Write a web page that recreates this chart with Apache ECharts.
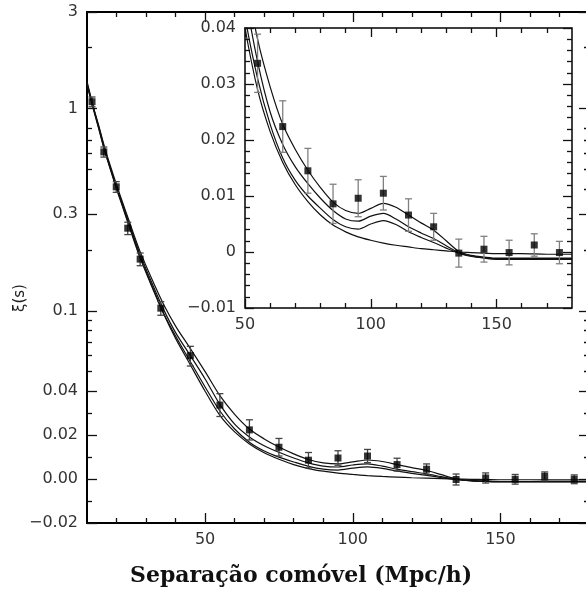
<!DOCTYPE html>
<html><head><meta charset="utf-8">
<script src="https://cdn.jsdelivr.net/npm/echarts@6/dist/echarts.min.js"></script>
<style>html,body{margin:0;padding:0;background:#fff}#c{width:586px;height:598px}</style>
</head><body><div id="c"></div><script>
// ---- observed points ----
const obsS   = [11.7, 15.7, 19.9, 23.8, 28, 35, 45, 55, 65, 75, 85, 95, 105, 115, 125, 135, 145, 155, 165, 175];
const obsXi  = [1.08, 0.61, 0.41, 0.256, 0.18, 0.103, 0.060, 0.0337, 0.0224, 0.0145, 0.0086, 0.0096, 0.0105, 0.0066, 0.0045, -0.0002, 0.0005, -0.0001, 0.00125, -0.0001];
const obsErr = [0.06, 0.035, 0.025, 0.018, 0.013, 0.008, 0.0067, 0.0052, 0.0046, 0.004, 0.0035, 0.0033, 0.003, 0.0029, 0.0024, 0.0025, 0.0023, 0.0022, 0.002, 0.002];
// ---- model curves ----
const modelS = [10,12,14,16,18,20,22,24,26,28,32,36,40,45,50,55,60,65,70,75,80,85,90,95,100,105,110,115,120,125,130,135,140,145,150,160,170,180];
const modelA = [1.36,1.04,0.82,0.64,0.515,0.42,0.345,0.285,0.235,0.196,0.143,0.107,0.084,0.065,0.050,0.038,0.0295,0.0228,0.0183,0.0146,0.0115,0.0089,0.0074,0.0069,0.0078,0.0087,0.0080,0.0066,0.0052,0.0039,0.0020,0.0001,-0.0006,-0.0009,-0.0011,-0.0011,-0.0011,-0.0011];
const modelB = [1.34,1.03,0.81,0.63,0.505,0.41,0.338,0.278,0.229,0.19,0.137,0.101,0.078,0.060,0.046,0.034,0.0250,0.0192,0.0152,0.0122,0.0096,0.0074,0.0059,0.0055,0.0064,0.0069,0.0059,0.0045,0.0034,0.0024,0.0011,-0.0001,-0.0007,-0.0010,-0.0012,-0.0012,-0.0012,-0.0012];
const modelC = [1.32,1.02,0.80,0.62,0.50,0.405,0.332,0.272,0.224,0.185,0.133,0.097,0.075,0.056,0.042,0.031,0.0228,0.0168,0.0128,0.0100,0.0078,0.0058,0.0045,0.0041,0.0050,0.0056,0.0049,0.0036,0.0026,0.0017,0.0007,-0.0002,-0.0008,-0.0011,-0.0013,-0.0013,-0.0013,-0.0013];
const modelD = [1.31,1.01,0.79,0.615,0.495,0.40,0.328,0.268,0.22,0.182,0.131,0.096,0.073,0.054,0.040,0.029,0.0215,0.0160,0.0120,0.0090,0.0066,0.0048,0.0036,0.0027,0.0021,0.0016,0.0012,0.0009,0.0006,0.0004,0.0002,0.0000,-0.0001,-0.0002,-0.0003,-0.0003,-0.0004,-0.0004];
// ---- ticks ----
const mainYMajor = [3, 1, 0.3, 0.1, 0.04, 0.02, 0, -0.02];
const mainYLabels = ['3', '1', '0.3', '0.1', '0.04', '0.02', '0.00', '\u22120.02'];
const mainYMinor = [2, 0.8, 0.7, 0.6, 0.5, 0.4, 0.2, 0.09, 0.08, 0.07, 0.06, 0.05, 0.03, 0.01, -0.01];
const xMajor = [50, 100, 150];
const xMajorLabels = ['50', '100', '150'];
const mainXMinor = [20, 30, 40, 60, 70, 80, 90, 110, 120, 130, 140, 160, 170];
const insetXMinor = [60, 70, 80, 90, 110, 120, 130, 140, 160, 170];
const insetYMajor = [0.04, 0.03, 0.02, 0.01, 0, -0.01];
const insetYLabels = ['0.04', '0.03', '0.02', '0.01', '0', '\u22120.01'];
const insetYMinor = [0.038,0.036,0.034,0.032,0.028,0.026,0.024,0.022,0.018,0.016,0.014,0.012,0.008,0.006,0.004,0.002,-0.002,-0.004,-0.006,-0.008];

// squashed scale: linear below 0.04, logarithmic above
const T = v => v <= 0.04 ? v : 0.04 * (1 + Math.log(v / 0.04));
const fmt = (vals, labels) => v => { const i = vals.findIndex(t => Math.abs(t - v) < 1e-7); return i >= 0 ? labels[i] : ''; };

const lblStyle = {fontFamily: 'DejaVu Sans', fontSize: 16, color: '#333'};
const LINE = '#111';

function ax(grid, min, max, pos, ticks, len, labels) {
  return {type: 'value', gridIndex: grid, min, max, position: pos,
    axisLine: {show: false, onZero: false},
    axisTick: {show: true, inside: true, length: len, customValues: ticks, lineStyle: {color: LINE, width: 1.3}},
    axisLabel: labels ? Object.assign({show: true, customValues: ticks, formatter: fmt(ticks, labels), margin: 9}, lblStyle) : {show: false},
    splitLine: {show: false}};
}
const mainYMaxT = T(3);
const mainMajT = mainYMajor.map(T), mainMinT = mainYMinor.map(T);

function errRenderer(color) {
  return function (params, api) {
    const x = api.value(0), lo = api.value(1), hi = api.value(2);
    const p1 = api.coord([x, lo]), p2 = api.coord([x, hi]);
    const w = 3.5, st = {stroke: color, lineWidth: 1.3};
    return {type: 'group', children: [
      {type: 'line', shape: {x1: p1[0], y1: p1[1], x2: p2[0], y2: p2[1]}, style: st},
      {type: 'line', shape: {x1: p1[0] - w, y1: p1[1], x2: p1[0] + w, y2: p1[1]}, style: st},
      {type: 'line', shape: {x1: p2[0] - w, y1: p2[1], x2: p2[0] + w, y2: p2[1]}, style: st}]};
  };
}

const models = [modelA, modelB, modelC, modelD];
const series = [];
models.forEach(m => {
  series.push({type: 'line', xAxisIndex: 0, yAxisIndex: 0, data: modelS.map((s, i) => [s, T(m[i])]),
    showSymbol: false, smooth: 0.3, lineStyle: {color: LINE, width: 1.2}, z: 2, silent: true});
});
series.push({type: 'custom', xAxisIndex: 0, yAxisIndex: 0, renderItem: errRenderer('#444'), encode: {x: 0, y: [1, 2]},
  data: obsS.map((s, i) => [s, T(obsXi[i] - obsErr[i]), T(obsXi[i] + obsErr[i])]), z: 3, silent: true});
series.push({type: 'scatter', xAxisIndex: 0, yAxisIndex: 0, symbol: 'rect', symbolSize: 7,
  itemStyle: {color: '#000'}, data: obsS.map((s, i) => [s, T(obsXi[i])]), z: 4, silent: true});

const insetIdx = obsS.map((s, i) => i).filter(i => obsS[i] >= 50);
models.forEach(m => {
  series.push({type: 'line', xAxisIndex: 4, yAxisIndex: 4, data: modelS.map((s, i) => [s, m[i]]),
    showSymbol: false, smooth: 0.3, lineStyle: {color: LINE, width: 1.2}, z: 5, clip: true, silent: true});
});
series.push({type: 'custom', xAxisIndex: 4, yAxisIndex: 4, renderItem: errRenderer('#808080'), encode: {x: 0, y: [1, 2]}, clip: true,
  data: insetIdx.map(i => [obsS[i], obsXi[i] - obsErr[i], obsXi[i] + obsErr[i]]), z: 6, silent: true});
series.push({type: 'scatter', xAxisIndex: 4, yAxisIndex: 4, symbol: 'rect', symbolSize: 7,
  itemStyle: {color: '#000'}, data: insetIdx.map(i => [obsS[i], obsXi[i]]), z: 7, silent: true});

const option = {
  animation: false,
  backgroundColor: '#fff',
  title: {text: 'Separação comóvel (Mpc/h)', left: 130, top: 565, padding: 0,
    textStyle: {fontFamily: 'DejaVu Serif', fontWeight: 'bold', fontSize: 22, color: '#111'}},
  grid: [
    {left: 87, top: 12, width: 502, height: 511, show: true, borderColor: '#000', borderWidth: 2, backgroundColor: 'transparent', containLabel: false, outerBoundsMode: 'none'},
    {left: 245, top: 28, width: 327, height: 280, show: true, borderColor: '#000', borderWidth: 1.5, backgroundColor: '#fff', containLabel: false, outerBoundsMode: 'none'}
  ],
  xAxis: [
    ax(0, 10, 180, 'bottom', xMajor, 10, xMajorLabels),
    ax(0, 10, 180, 'bottom', mainXMinor, 5),
    ax(0, 10, 180, 'top', xMajor, 10),
    ax(0, 10, 180, 'top', mainXMinor, 5),
    ax(1, 50, 180, 'bottom', xMajor, 9, xMajorLabels),
    ax(1, 50, 180, 'bottom', insetXMinor, 5),
    ax(1, 50, 180, 'top', xMajor, 9),
    ax(1, 50, 180, 'top', insetXMinor, 5)
  ],
  yAxis: [
    ax(0, -0.02, mainYMaxT, 'left', mainMajT, 10, mainYLabels),
    ax(0, -0.02, mainYMaxT, 'left', mainMinT, 5),
    ax(0, -0.02, mainYMaxT, 'right', mainMajT, 10),
    ax(0, -0.02, mainYMaxT, 'right', mainMinT, 5),
    ax(1, -0.01, 0.04, 'left', insetYMajor, 9, insetYLabels),
    ax(1, -0.01, 0.04, 'left', insetYMinor, 5),
    ax(1, -0.01, 0.04, 'right', insetYMajor, 9),
    ax(1, -0.01, 0.04, 'right', insetYMinor, 5)
  ],
  graphic: [{type: 'text', x: 20, y: 298, rotation: Math.PI / 2,
    style: {text: 'ξ(s)', fontFamily: 'DejaVu Sans', fontSize: 15, fill: '#222', align: 'center', verticalAlign: 'middle'}}],
  series
};
const chart = echarts.init(document.getElementById('c'), null, {renderer: 'canvas'});
chart.setOption(option);
</script></body></html>
